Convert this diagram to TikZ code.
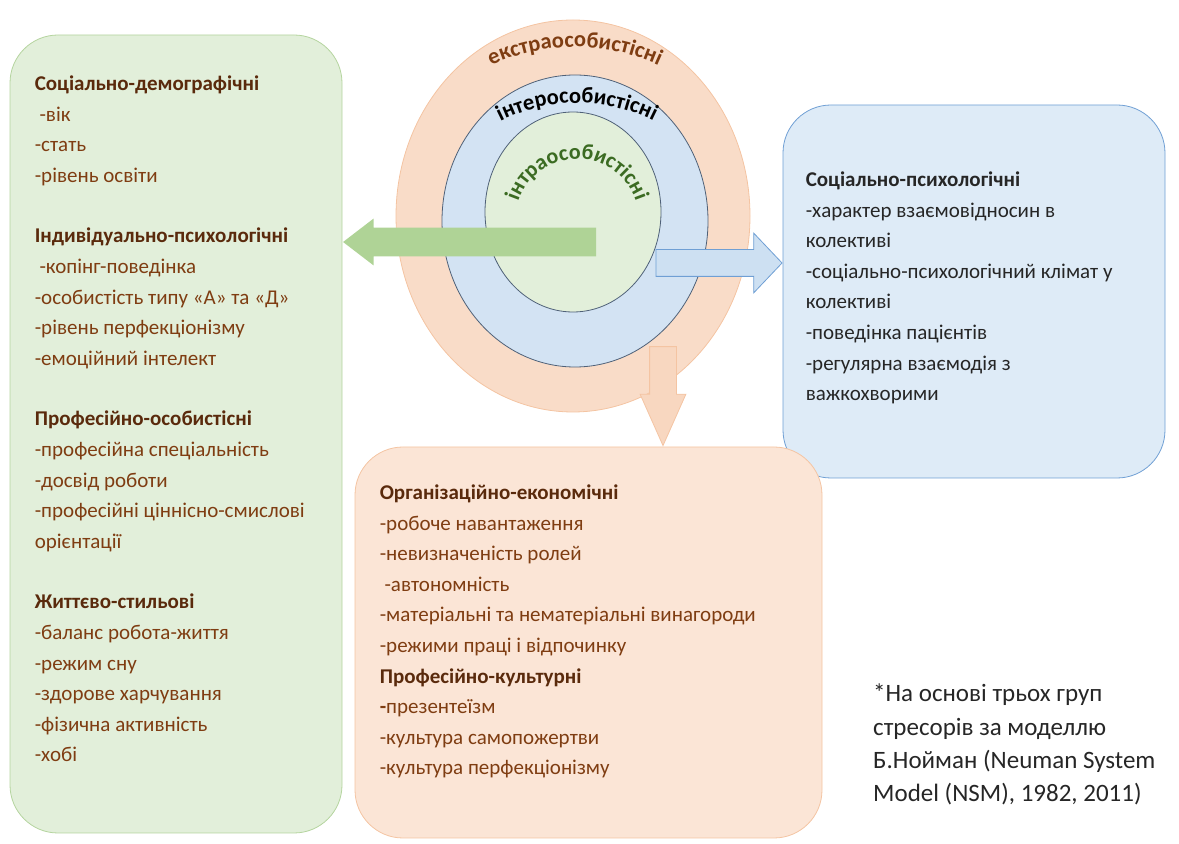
\documentclass[tikz,border=0pt]{standalone}
\usepackage{fontspec}
\setmainfont{Carlito}
\usetikzlibrary{shapes.geometric,shapes.arrows,decorations.text,positioning}

\definecolor{greenfill}{HTML}{E2EFDA}
\definecolor{greenline}{HTML}{B4D49E}
\definecolor{greenarrow}{HTML}{AFD396}
\definecolor{greentext}{HTML}{3B6B22}
\definecolor{bluefill}{HTML}{DEEBF7}
\definecolor{blueline}{HTML}{6F9FD4}
\definecolor{ringline}{HTML}{4F6178}
\definecolor{peachfill}{HTML}{FBE5D6}
\definecolor{peachring}{HTML}{F9DCC8}
\definecolor{peachline}{HTML}{F4C4A2}
\definecolor{brownhead}{HTML}{5A2A0C}
\definecolor{browntext}{HTML}{7F3D12}
\definecolor{darktext}{HTML}{262626}

\begin{document}
\begin{tikzpicture}[x=1pt,y=1pt,
    factorbox/.style={draw, rectangle, rounded corners=48pt, line width=0.8pt, inner sep=0pt},
    ring/.style={draw, ellipse, line width=0.8pt, inner sep=0pt},
    fatarrow/.style={single arrow, line width=0.8pt, anchor=tip},
    factorlist/.style={anchor=north west, align=left, inner sep=0pt,
                       font=\fontsize{21}{30.6}\selectfont},
    arctext/.style={decorate, decoration={text along path, text align=center, text={#1}}}
  ]
  \useasboundingbox (0,0) rectangle (1179,844);

  % three boxes of stressors
  \node[factorbox, fill=greenfill, draw=greenline, minimum width=332pt, minimum height=798pt] (leftbox) at (176,410) {};
  \node[factorbox, fill=bluefill, draw=blueline, minimum width=382pt, minimum height=373pt] (rightbox) at (974,552.5) {};
  \node[factorbox, fill=peachfill, draw=peachline, minimum width=467pt, minimum height=391pt] (bottombox) at (588.5,201.5) {};

  % the rings of the model
  \node[ring, fill=peachring, draw=peachline, minimum width=354pt, minimum height=392pt] (outer) at (573,628) {};
  \node[ring, fill=bluefill!90!blueline, draw=ringline, minimum width=266pt, minimum height=292pt] (mid) at (575,623) {};
  \node[ring, fill=greenfill, draw=ringline, minimum width=176pt, minimum height=200pt] (inner) at (573,632) {};

  \path[arctext={|\fontsize{22.5}{22.5}\selectfont\bfseries\color{browntext}|екстраособистісні}]
    ([shift={(2,-31)}]outer.center) ++(140:200) arc[start angle=140, end angle=40, radius=200];
  \path[arctext={|\fontsize{22.5}{22.5}\selectfont\bfseries\color{black}|інтерособистісні}]
    ([shift={(2,-52)}]mid.center) ++(140:170) arc[start angle=140, end angle=40, radius=170];
  \path[arctext={|\fontsize{22}{22}\selectfont\bfseries\color{greentext}|інтраособистісні}]
    ([shift={(4,-9)}]inner.center) ++(200:62) arc[start angle=200, end angle=-20, radius=62];

  % block arrows
  \coordinate (gtail) at (593,602);
  \coordinate (btail) at (657,581);
  \coordinate (otail) at (663,496);
  \node[fatarrow, fill=greenarrow, draw=none, shape border rotate=180, inner sep=14pt,
        minimum height=253pt, single arrow head extend=9pt, single arrow tip angle=75] (toleft) at (leftbox.east |- gtail) {};
  \node[fatarrow, fill=bluefill!85!blueline, draw=blueline, inner sep=13pt,
        minimum height=126pt, single arrow head extend=16.5pt, single arrow tip angle=93] (toright) at (rightbox.west |- btail) {};
  \node[fatarrow, fill=peachring!80!peachline, draw=peachline, shape border rotate=270, inner sep=13pt,
        minimum height=99pt, single arrow head extend=9.5pt, single arrow tip angle=48] (todown) at (bottombox.north -| otail) {};

  % lists
  \node[factorlist, text=browntext] (leftlist) at ([xshift=25pt,yshift=-41pt]leftbox.north west) {%
    {\bfseries\color{brownhead}Соціально-демографічні}\\
    \ -вік\\
    -стать\\
    -рівень освіти\\[30pt]
    {\bfseries\color{brownhead}Індивідуально-психологічні}\\
    \ -копінг-поведінка\\
    -особистість типу «А» та «Д»\\
    -рівень перфекціонізму\\
    -емоційний інтелект\\[30pt]
    {\bfseries\color{brownhead}Професійно-особистісні}\\
    -професійна спеціальність\\
    -досвід роботи\\
    -професійні ціннісно-смислові\\
    орієнтації\\[30pt]
    {\bfseries\color{brownhead}Життєво-стильові}\\
    -баланс робота-життя\\
    -режим сну\\
    -здорове харчування\\
    -фізична активність\\
    -хобі};

  \node[factorlist, text=darktext] (rightlist) at ([xshift=23pt,yshift=-67pt]rightbox.north west) {%
    {\bfseries Соціально-психологічні}\\
    -характер взаємовідносин в\\
    колективі\\
    -соціально-психологічний клімат у\\
    колективі\\
    -поведінка пацієнтів\\
    -регулярна взаємодія з\\
    важкохворими};

  \node[factorlist, text=browntext] (bottomlist) at ([xshift=25pt,yshift=-38pt]bottombox.north west) {%
    {\bfseries\color{brownhead}Організаційно-економічні}\\
    -робоче навантаження\\
    -невизначеність ролей\\
    \ -автономність\\
    -матеріальні та нематеріальні винагороди\\
    -режими праці і відпочинку\\
    {\bfseries\color{brownhead}Професійно-культурні}\\
    {\bfseries -}презентеїзм\\
    -культура самопожертви\\
    -культура перфекціонізму};

  \node[factorlist, text=darktext, font=\fontsize{25}{33.3}\selectfont] (note) at (873,160) {%
    *На основі трьох груп\\
    стресорів за моделлю\\
    Б.Нойман (Neuman System\\
    Model (NSM), 1982, 2011)};
\end{tikzpicture}
\end{document}
